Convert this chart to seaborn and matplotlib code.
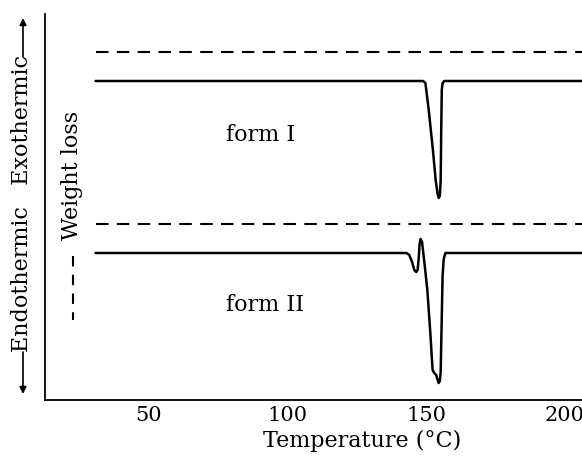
import matplotlib
matplotlib.use("Agg")
import matplotlib.pyplot as plt
import seaborn as sns
import pandas as pd

# ---- data (y in arbitrary signal units) ----
form1_temp = [31, 149.0, 149.8, 151.0, 152.5, 153.5, 154.2, 154.6, 155.0, 155.3, 155.5, 155.7, 156.0, 156.6, 206.5]
form1_sig  = [319, 319, 317, 290, 250, 220, 206, 202, 204, 220, 270, 310, 317, 319, 319]

form2_temp = [31, 143.0, 144.0, 145.0, 145.8, 146.5, 147.0, 147.4, 147.7, 148.1, 148.6, 149.0, 149.5, 150.5,
              151.5, 152.4, 153.0, 153.7, 154.2, 154.6, 155.0, 155.3, 155.6, 156.0, 156.4, 157.0, 206.5]
form2_sig  = [147, 147, 145, 138, 130, 128, 130, 142, 156, 161, 158, 148, 136, 110,
              70, 30, 27, 25, 20, 17, 19, 28, 70, 125, 141, 147, 147]

tg1_temp = [31, 206.5]
tg1_sig = [348, 348]
tg2_temp = [31, 206.5]
tg2_sig = [176, 176]

x_ticks = [50, 100, 150, 200]
curve_labels = ["form I", "form II"]
x_label = "Temperature (°C)"
left_label = "Endothermic   Exothermic"
weight_label = "Weight loss"

# ---- figure ----
sns.set_theme(style="white")
plt.rcParams["font.family"] = ["DejaVu Serif"]
plt.rcParams["text.color"] = "black"
plt.rcParams["axes.labelcolor"] = "black"
plt.rcParams["xtick.color"] = "black"

W, H = 582, 459
fig = plt.figure(figsize=(W / 100, H / 100), dpi=100)
ax = fig.add_axes([45 / W, 1 - 400 / H, 1 - 45 / W, (400 - 14) / H])

df1 = pd.DataFrame({"T": form1_temp, "S": form1_sig})
df2 = pd.DataFrame({"T": form2_temp, "S": form2_sig})
sns.lineplot(data=df1, x="T", y="S", ax=ax, color="black", lw=1.8, estimator=None, sort=False)
sns.lineplot(data=df2, x="T", y="S", ax=ax, color="black", lw=1.8, estimator=None, sort=False)
for tt, ss in [(tg1_temp, tg1_sig), (tg2_temp, tg2_sig)]:
    sns.lineplot(x=tt, y=ss, ax=ax, color="black", lw=1.5, estimator=None,
                 linestyle=(0, (6, 4)))

ax.set_xlim(12.8, 206.2)
ax.set_ylim(0, 386)
ax.set_xticks(x_ticks)
ax.set_xticklabels([str(t) for t in x_ticks])
ax.set_yticks([])
ax.tick_params(axis="x", direction="in", length=5, width=1, pad=4, labelsize=15, colors="black")
for s in ["top", "right"]:
    ax.spines[s].set_visible(False)
for s in ["left", "bottom"]:
    ax.spines[s].set_color("black")
    ax.spines[s].set_linewidth(1.3)

ax.set_xlabel(x_label, fontsize=16, labelpad=6, color="black")
ax.xaxis.set_label_coords((362 - 45) / (W - 45), -(430 - 400) / (400 - 14))
ax.set_ylabel("")

# curve labels
ax.text(90.5, 265, curve_labels[0], ha="center", va="center", fontsize=16, color="black")
ax.text(92.0, 95, curve_labels[1], ha="center", va="center", fontsize=16, color="black")

def fx(px):
    return px / W

def fy(py):
    return 1 - py / H

fig.text(fx(22), fy(203), left_label, rotation=90, ha="center", va="center", fontsize=16, color="black")
fig.text(fx(72), fy(175), weight_label, rotation=90, ha="center", va="center", fontsize=16, color="black")

arrow = dict(arrowstyle="-|>", color="black", lw=1.2, mutation_scale=10, shrinkA=0, shrinkB=0)
ax.annotate("", xy=(fx(23), fy(18)), xytext=(fx(23), fy(57)), xycoords="figure fraction",
            textcoords="figure fraction", arrowprops=arrow)
ax.annotate("", xy=(fx(23), fy(394)), xytext=(fx(23), fy(352)), xycoords="figure fraction",
            textcoords="figure fraction", arrowprops=arrow)

fig.add_artist(plt.Line2D([fx(73), fx(73)], [fy(256), fy(320)], color="black", lw=1.5,
                          linestyle=(0, (5, 4))))

fig.savefig("out.png", dpi=100)
